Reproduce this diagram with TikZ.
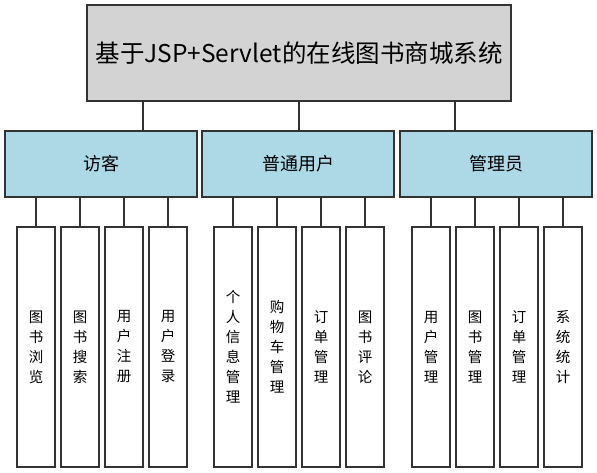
\documentclass[tikz,border=0pt]{standalone}
\usepackage{fontspec}
\setmainfont{Noto Sans CJK SC}
\usepackage{xcolor}
\usetikzlibrary{positioning}
\definecolor{linegray}{HTML}{333333}
\definecolor{rootgray}{HTML}{D3D3D3}
\definecolor{rolefill}{HTML}{ADD8E6}
\tikzset{
  box/.style={draw=linegray,line width=1.5pt,inner sep=0pt},
  rootbox/.style={box,fill=rootgray,minimum width=424pt,minimum height=96pt,font=\fontsize{24.5}{28}\selectfont},
  rolebox/.style={box,fill=rolefill,minimum width=192pt,minimum height=66pt,font=\fontsize{18}{22}\selectfont},
  leaf/.style={box,fill=white,minimum width=38pt,minimum height=240pt,align=center,font=\fontsize{14.5}{20}\selectfont},
  link/.style={draw=linegray,line width=1.5pt}
}
\begin{document}
\begin{tikzpicture}[x=1pt,y=1pt,node distance=44pt,on grid]
  \useasboundingbox (0,0) rectangle (597,-473);
  \node[rootbox] (sys) at (299,-53) {基于JSP+Servlet的在线图书商城系统};
  \node[rolebox] (guest) [below left=111pt and 198pt of sys] {访客};
  \node[rolebox] (user) [right=197pt of guest] {普通用户};
  \node[rolebox] (admin) [right=198pt of user] {管理员};
  % visitor
  \node[leaf] (g1) [below left=183pt and 65pt of guest] {图\\书\\浏\\览};
  \node[leaf] (g2) [right=of g1] {图\\书\\搜\\索};
  \node[leaf] (g3) [right=of g2] {用\\户\\注\\册};
  \node[leaf] (g4) [right=of g3] {用\\户\\登\\录};
  % user
  \node[leaf] (u1) [below left=183pt and 65pt of user] {个\\人\\信\\息\\管\\理};
  \node[leaf] (u2) [right=of u1] {购\\物\\车\\管\\理};
  \node[leaf] (u3) [right=of u2] {订\\单\\管\\理};
  \node[leaf] (u4) [right=of u3] {图\\书\\评\\论};
  % admin
  \node[leaf] (a1) [below left=183pt and 65pt of admin] {用\\户\\管\\理};
  \node[leaf] (a2) [right=of a1] {图\\书\\管\\理};
  \node[leaf] (a3) [right=of a2] {订\\单\\管\\理};
  \node[leaf] (a4) [right=of a3] {系\\统\\统\\计};
  % links
  \draw[link] ([xshift=-156pt]sys.south) -- ([xshift=-156pt]sys.south |- guest.north);
  \draw[link] (sys.south) -- (sys.south |- user.north);
  \draw[link] ([xshift=156pt]sys.south) -- ([xshift=156pt]sys.south |- admin.north);
  \draw[link] (guest.south -| g1) -- (g1.north);
  \draw[link] (guest.south -| g2) -- (g2.north);
  \draw[link] (guest.south -| g3) -- (g3.north);
  \draw[link] (guest.south -| g4) -- (g4.north);
  \draw[link] (user.south -| u1) -- (u1.north);
  \draw[link] (user.south -| u2) -- (u2.north);
  \draw[link] (user.south -| u3) -- (u3.north);
  \draw[link] (user.south -| u4) -- (u4.north);
  \draw[link] (admin.south -| a1) -- (a1.north);
  \draw[link] (admin.south -| a2) -- (a2.north);
  \draw[link] (admin.south -| a3) -- (a3.north);
  \draw[link] (admin.south -| a4) -- (a4.north);
\end{tikzpicture}
\end{document}
